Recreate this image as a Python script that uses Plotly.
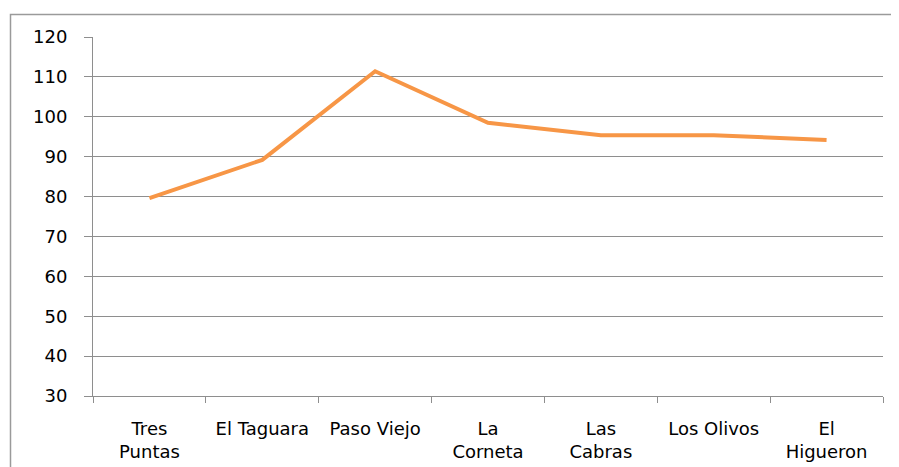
import plotly.graph_objects as go

categories = ["Tres Puntas", "El Taguara", "Paso Viejo", "La Corneta", "Las Cabras", "Los Olivos", "El Higueron"]
tick_labels = ["Tres<br>Puntas", "El Taguara", "Paso Viejo", "La<br>Corneta", "Las<br>Cabras", "Los Olivos", "El<br>Higueron"]
values = [79.6, 89.2, 111.4, 98.5, 95.4, 95.4, 94.2]
y_ticks = [30, 40, 50, 60, 70, 80, 90, 100, 110, 120]

fig = go.Figure()
fig.add_trace(go.Scatter(
    x=categories, y=values, mode="lines",
    line=dict(color="#F79646", width=4),
    showlegend=False, hoverinfo="x+y",
))

font = dict(family="DejaVu Sans", size=18, color="#000000")

# page body has an 8px margin, so the figure is placed at (8, 8)
W, H = 891, 459
L, R, T, B = 85, 16, 29, 71
pw, ph = W - L - R, H - T - B

fig.update_layout(
    width=W, height=H,
    margin=dict(l=L, r=R, t=T, b=B, autoexpand=False),
    paper_bgcolor="white", plot_bgcolor="white",
    font=font,
    xaxis=dict(
        type="category", categoryorder="array", categoryarray=categories,
        tickmode="array", tickvals=categories, ticktext=tick_labels,
        range=[-0.5, 6.5], tickson="boundaries", automargin=False,
        ticks="outside", ticklen=6, tickcolor="#8E8E8E", tickwidth=1,
        showline=True, linecolor="#8E8E8E", linewidth=1,
        showgrid=False, zeroline=False,
        ticklabelstandoff=16, tickfont=font,
    ),
    yaxis=dict(
        range=[30, 120], tickmode="array", tickvals=y_ticks, automargin=False,
        ticks="outside", ticklen=8, tickcolor="#8E8E8E", tickwidth=1,
        showline=True, linecolor="#8E8E8E", linewidth=1,
        showgrid=True, gridcolor="#8E8E8E", gridwidth=1,
        zeroline=False, ticklabelstandoff=13, tickfont=font,
    ),
    shapes=[dict(
        type="rect", xref="paper", yref="paper",
        x0=(2.5 - L) / pw, x1=(W + 10 - L) / pw,
        y0=-(B + 10) / ph, y1=(H - B - 6.5) / ph,
        line=dict(color="#9A9A9A", width=1.5), fillcolor="rgba(0,0,0,0)",
        layer="above",
    )],
)

fig.write_html("out.html")
